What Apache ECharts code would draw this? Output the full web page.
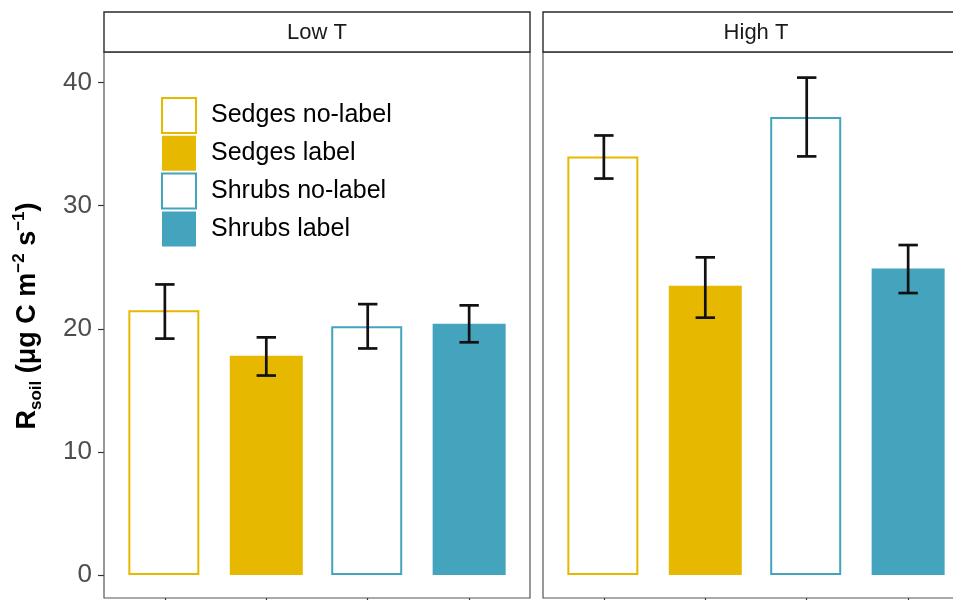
<!DOCTYPE html>
<html>
<head>
<meta charset="utf-8">
<script src="https://cdn.jsdelivr.net/npm/echarts@6/dist/echarts.min.js"></script>
<style>
  html, body { margin: 0; padding: 0; background: #fff; }
  #chart { width: 953px; height: 600px; }
</style>
</head>
<body>
<div id="chart"></div>
<script>
// Soil respiration by plant group and labelling treatment, faceted by temperature
const panels = ['Low T', 'High T'];
const groups = ['Sedges no-label', 'Sedges label', 'Shrubs no-label', 'Shrubs label'];
const groupX = [1, 2, 3, 4];

const lowMean  = [21.5, 17.8, 20.2, 20.4];
const lowLower = [19.2, 16.2, 18.4, 18.9];
const lowUpper = [23.6, 19.3, 22.0, 21.9];

const highMean  = [34.0, 23.5, 37.2, 24.9];
const highLower = [32.2, 20.9, 34.0, 22.9];
const highUpper = [35.7, 25.8, 40.4, 26.8];

const yTicks = [0, 10, 20, 30, 40];

const means  = [lowMean, highMean];
const lowers = [lowLower, highLower];
const uppers = [lowUpper, highUpper];

const FONT = '"Liberation Sans", Arial, Helvetica, sans-serif';
const GOLD = '#E7B800';
const TEAL = '#44A4BE';

const barStyles = [
  { color: '#ffffff', borderColor: GOLD, borderWidth: 2 },
  { color: GOLD },
  { color: '#ffffff', borderColor: TEAL, borderWidth: 2 },
  { color: TEAL }
];

// panel geometry: the second facet runs past the right edge of the page
const panelLeft = [104, 543];
const panelWidth = 426;
const panelTop = 52;
const panelHeight = 546;
const stripTop = 12;
const stripHeight = 40;
const xMin = 0.4, xMax = 4.6;
const pxPerUnit = panelWidth / (xMax - xMin);
const visibleWidth = [panelWidth, 953 - panelLeft[1]];

const chart = echarts.init(document.getElementById('chart'), null, { renderer: 'canvas' });

const grids = panels.map((p, i) => ({
  left: panelLeft[i], top: panelTop, width: visibleWidth[i], height: panelHeight,
  show: false, containLabel: false
}));

const xAxes = panels.map((p, i) => ({
  type: 'value', gridIndex: i, min: xMin, max: xMin + visibleWidth[i] / pxPerUnit,
  axisLine: { show: false, onZero: false },
  splitLine: { show: false },
  axisTick: { show: true, customValues: groupX, length: 5, lineStyle: { color: '#333', width: 1.2 } },
  axisLabel: { show: false }
}));

const yAxes = panels.map((p, i) => ({
  type: 'value', gridIndex: i, min: -1.87, max: 42.48,
  axisLine: { show: false, onZero: false },
  splitLine: { show: false },
  axisTick: { show: i === 0, customValues: yTicks, length: 6, lineStyle: { color: '#333', width: 1.2 } },
  axisLabel: {
    show: i === 0, customValues: yTicks, fontSize: 26, color: '#4d4d4d',
    fontFamily: FONT, margin: 12
  }
}));

const series = [];
panels.forEach((p, pi) => {
  groups.forEach((g, gi) => {
    series.push({
      type: 'bar',
      name: g,
      xAxisIndex: pi,
      yAxisIndex: pi,
      barWidth: barStyles[gi].borderWidth ? 71 : 73,
      barGap: '-100%',
      itemStyle: barStyles[gi],
      emphasis: { disabled: true },
      data: [[groupX[gi], means[pi][gi]]],
      z: 2
    });
  });
  series.push({
    type: 'custom',
    name: 'error ' + p,
    xAxisIndex: pi,
    yAxisIndex: pi,
    clip: false,
    z: 5,
    encode: { x: 0, y: [1, 2] },
    data: groups.map((g, gi) => [groupX[gi], lowers[pi][gi], uppers[pi][gi]]),
    renderItem: function (params, api) {
      const x = api.value(0);
      const lo = api.coord([x, api.value(1)]);
      const hi = api.coord([x, api.value(2)]);
      const half = 9.7;
      const style = { stroke: '#111', lineWidth: 2.7 };
      return {
        type: 'group',
        children: [
          { type: 'line', shape: { x1: lo[0], y1: lo[1], x2: hi[0], y2: hi[1] }, style: style },
          { type: 'line', shape: { x1: lo[0] - half, y1: lo[1], x2: lo[0] + half, y2: lo[1] }, style: style },
          { type: 'line', shape: { x1: hi[0] - half, y1: hi[1], x2: hi[0] + half, y2: hi[1] }, style: style }
        ]
      };
    }
  });
});

// panel frames and facet strips
const graphics = [];
panels.forEach((p, i) => {
  graphics.push({
    type: 'rect', z: 1, silent: true,
    shape: { x: panelLeft[i], y: panelTop, width: panelWidth, height: panelHeight },
    style: { fill: 'none', stroke: '#555', lineWidth: 1.2 }
  });
  graphics.push({
    type: 'rect', z: 10,
    shape: { x: panelLeft[i], y: stripTop, width: panelWidth, height: stripHeight },
    style: { fill: '#ffffff', stroke: '#2a2a2a', lineWidth: 1.4 }
  });
  graphics.push({
    type: 'text', z: 11,
    x: panelLeft[i] + panelWidth / 2, y: stripTop + stripHeight / 2 + 1,
    style: { text: p, fill: '#1a1a1a', font: '22px ' + FONT, align: 'center', verticalAlign: 'middle' }
  });
});

// y-axis title with subscript and superscripts
graphics.push({
  type: 'text', z: 11,
  x: 28, y: 316, rotation: Math.PI / 2,
  style: {
    text: '{b|R}{sub|soil}{b| (μg C m}{sup|−2}{b| s}{sup|−1}{b|)}',
    align: 'center', verticalAlign: 'middle',
    rich: {
      b: { fontSize: 27, fontWeight: 'bold', fontFamily: FONT, fill: '#000', lineHeight: 34, verticalAlign: 'middle' },
      sub: { fontSize: 17, fontWeight: 'bold', fontFamily: FONT, fill: '#000', lineHeight: 17, verticalAlign: 'bottom' },
      sup: { fontSize: 17, fontWeight: 'bold', fontFamily: FONT, fill: '#000', lineHeight: 17, verticalAlign: 'top' }
    }
  }
});

chart.setOption({
  animation: false,
  backgroundColor: '#ffffff',
  grid: grids,
  xAxis: xAxes,
  yAxis: yAxes,
  legend: {
    orient: 'vertical',
    left: 156, top: 92,
    itemWidth: 34, itemHeight: 35, itemGap: 1.8,
    icon: 'rect',
    selectedMode: false,
    textStyle: { fontSize: 25, color: '#000', fontFamily: FONT, padding: [0, 0, 0, 10] },
    data: groups.map((g, gi) => ({ name: g, itemStyle: barStyles[gi] }))
  },
  series: series,
  graphic: graphics
});
</script>
</body>
</html>
